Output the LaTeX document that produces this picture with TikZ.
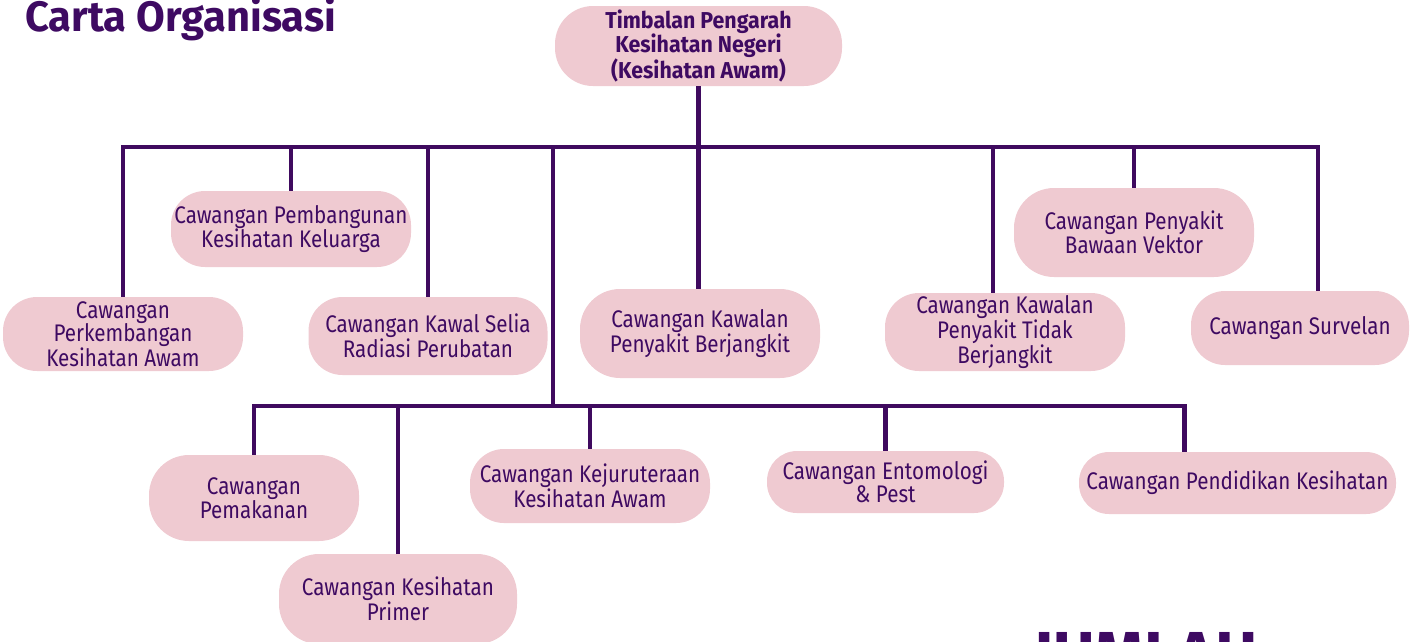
\documentclass[tikz,border=0pt]{standalone}
\usepackage{fontspec}
\setmainfont{Fira Sans}[FakeStretch=0.86]
\newfontfamily\titlefont{Fira Sans}[FakeStretch=0.98]
\newfontfamily\headfamily{Fira Sans}[FakeStretch=0.93]
\definecolor{lineviolet}{HTML}{3F0A5F}
\definecolor{textviolet}{HTML}{3E0A62}
\definecolor{nodepink}{HTML}{EFCAD1}
\newcommand\bodyfont{\fontsize{24}{23.5}\selectfont}
\newcommand\headfont{\headfamily\fontsize{23}{23.3}\selectfont\bfseries}
\tikzset{
  unit/.style={fill=nodepink, rounded corners=#1, text=textviolet, align=center,
    inner sep=0pt, font=\bodyfont},
  unit/.default=34pt,
  link/.style={draw=lineviolet, line width=4.2pt, line join=miter},
}
\begin{document}
\begin{tikzpicture}[x=1pt, y=-1pt]
\useasboundingbox (0,0) rectangle (1412,641);

% title
\node[anchor=base west, inner sep=0pt, text=textviolet, font=\titlefont\fontsize{42.5}{42.5}\selectfont\bfseries] (title) at (25,31) {Carta Organisasi};

% bars and drop points
\coordinate (bar) at (0,147);
\coordinate (mid) at (0,406);
\coordinate (stem) at (553,0);

% head
\node[unit=38pt, minimum width=287pt, minimum height=80pt, font=\headfont] (head) at (698.5,46) {Timbalan Pengarah\\Kesihatan Negeri\\(Kesihatan Awam)};

% first row
\node[unit, minimum width=240pt, minimum height=74pt] (perk) at (123,334) {Cawangan\\Perkembangan\\Kesihatan Awam};
\node[unit, minimum width=240pt, minimum height=76pt] (bina) at (291,229) {Cawangan Pembangunan\\Kesihatan Keluarga};
\node[unit, minimum width=239pt, minimum height=78pt] (radiasi) at (428,336) {Cawangan Kawal Selia\\Radiasi Perubatan};
\node[unit=40pt, minimum width=240pt, minimum height=89pt] (berjangkit) at (700,333.5) {Cawangan Kawalan\\Penyakit Berjangkit};
\node[unit, minimum width=240pt, minimum height=78pt] (tidak) at (1005,332) {Cawangan Kawalan\\Penyakit Tidak\\Berjangkit};
\node[unit=40pt, minimum width=240pt, minimum height=89pt] (vektor) at (1134,232.5) {Cawangan Penyakit\\Bawaan Vektor};
\node[unit, minimum width=218pt, minimum height=74pt] (survelan) at (1300,328) {Cawangan Survelan};

% second row
\node[unit=40pt, minimum width=210pt, minimum height=86pt] (makan) at (254,498) {Cawangan\\Pemakanan};
\node[unit=40pt, minimum width=238pt, minimum height=90pt] (primer) at (398,599) {Cawangan Kesihatan\\Primer};
\node[unit, minimum width=240pt, minimum height=74pt] (jurutera) at (590,486) {Cawangan Kejuruteraan\\Kesihatan Awam};
\node[unit=30pt, minimum width=237pt, minimum height=62pt] (entomologi) at (885.5,482) {Cawangan Entomologi\\\& Pest};
\node[unit=30pt, minimum width=317pt, minimum height=62pt] (pendidikan) at (1237.5,483) {Cawangan Pendidikan Kesihatan};

\coordinate (tidaktop) at ([xshift=-12pt]tidak.north);
\coordinate (survtop) at ([xshift=18pt]survelan.north);
\coordinate (pendtop) at ([xshift=-53pt]pendidikan.north);

% connectors
\draw[link] (head.south) -- (head.south |- berjangkit.north);
\draw[link] (perk.north) -- (perk.north |- bar) -- (survtop |- bar) -- (survtop);
\draw[link] (bina.north |- bar) -- (bina.north);
\draw[link] (radiasi.north |- bar) -- (radiasi.north);
\draw[link] (tidaktop |- bar) -- (tidaktop);
\draw[link] (vektor.north |- bar) -- (vektor.north);
\draw[link] (stem |- bar) -- (stem |- mid);
\draw[link] (makan.north) -- (makan.north |- mid) -- (pendtop |- mid) -- (pendtop);
\draw[link] (primer.north |- mid) -- (primer.north);
\draw[link] (jurutera.north |- mid) -- (jurutera.north);
\draw[link] (entomologi.north |- mid) -- (entomologi.north);

% cut-off heading at the bottom edge
\node[anchor=north west, inner sep=0pt, text=textviolet, font=\titlefont\fontsize{65}{65}\selectfont\bfseries] (jumlah) at (1033,632) {JUMLAH};
\end{tikzpicture}
\end{document}
